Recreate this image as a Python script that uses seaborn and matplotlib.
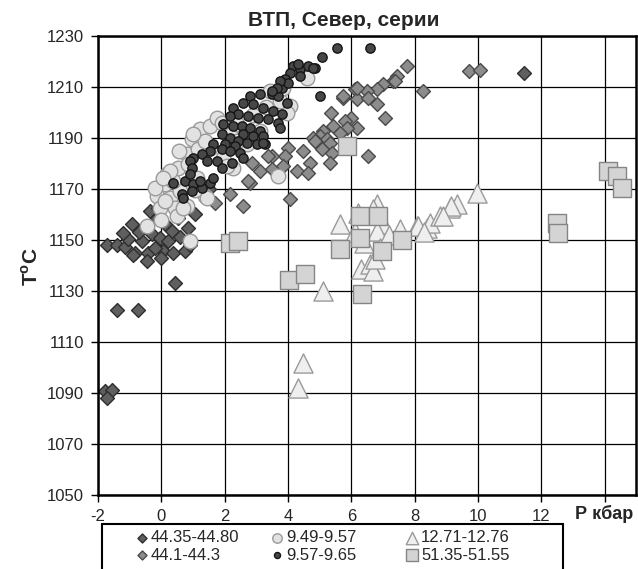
"""
plot.py
-------
ВТП, Север, серии: T (°C) vs P (kbar) scatter, six sample series.
Saves out.png (638x569).
"""

import matplotlib
matplotlib.use("Agg")
import matplotlib.pyplot as plt
from matplotlib.patches import Rectangle
import seaborn as sns
import pandas as pd

# ── data ──────────────────────────────────────────────────────────────────────
series_names = ["44.35-44.80", "44.1-44.3", "9.49-9.57", "9.57-9.65",
                "12.71-12.76", "51.35-51.55"]

dark_dia_p = [-1.78, -1.57, -1.73, -1.41, -0.75, -1.73, -1.41, -1.15, -1.04, -0.94,
              -1.20, -0.83, -0.62, -0.41, -0.46, -0.36, -0.30, -0.15, -0.04, 0.12,
              0.06, 0.22, 0.38, 0.75, 0.85, 0.43, -0.10, 0.27, 0.33, 0.54,
              1.06, 1.50, -0.70, -0.20, 0.60, 0.00, -0.90, 0.90, 11.45]
dark_dia_t = [1090.8, 1091.0, 1088.2, 1122.4, 1122.4, 1148.0, 1148.0, 1147.3, 1150.3, 1156.2,
              1152.9, 1145.0, 1149.6, 1145.0, 1141.8, 1161.4, 1152.2, 1158.8, 1150.9, 1156.2,
              1145.7, 1149.6, 1145.0, 1145.7, 1154.8, 1133.3, 1162.7, 1164.0, 1153.5, 1158.8,
              1160.1, 1170.0, 1153.0, 1147.0, 1151.0, 1143.0, 1144.0, 1148.0, 1215.5]

grey_dia_p = [7.75, 7.43, 7.30, 7.00, 6.80, 8.27, 6.12, 6.48, 6.17, 6.53,
              6.80, 5.75, 7.06, 5.37, 6.00, 5.80, 6.17, 5.43, 5.85, 5.64,
              5.11, 5.00, 4.80, 5.22, 4.90, 5.33, 5.07, 5.38, 6.53, 4.48,
              4.69, 5.33, 4.00, 3.90, 3.85, 4.27, 4.64, 3.48, 4.06, 3.38,
              2.85, 3.12, 2.80, 3.48, 4.85, 5.75, 6.17, 2.17, 2.59, 1.69,
              9.70, 10.06, 7.38, 2.75]
grey_dia_t = [1218.2, 1214.3, 1212.4, 1211.2, 1209.1, 1208.4, 1209.1, 1208.4, 1205.2, 1205.8,
              1203.2, 1205.8, 1198.0, 1199.9, 1198.0, 1196.7, 1194.0, 1194.7, 1194.0, 1192.1,
              1192.7, 1190.8, 1190.1, 1189.5, 1188.2, 1188.2, 1185.6, 1184.3, 1183.0, 1184.9,
              1180.3, 1180.3, 1186.2, 1183.0, 1179.0, 1177.1, 1176.4, 1183.0, 1166.0, 1183.0,
              1180.3, 1177.1, 1172.5, 1177.7, 1188.8, 1206.5, 1209.7, 1168.0, 1163.3, 1164.6,
              1216.3, 1216.7, 1212.4, 1173.1]

light_circ_p = [1.22, 1.54, 0.96, 0.80, 1.17, 0.54, 0.17, 0.12, -0.15, -0.20,
                0.27, 0.43, 0.80, -0.46, 0.90, 1.38, 2.27, 1.96, 1.54, 2.17,
                1.75, 2.38, 1.12, 0.59, 1.06, 0.38, -0.04, 3.69, 4.06, 3.96,
                3.75, 3.85, 4.48, 4.59, 3.12, 2.70, 2.38, 1.38, 0.48, 1.01,
                0.27, 0.06, 0.12, 0.69, 1.43, 2.06, 3.43, 0.00, 0.55, 0.85,
                1.90, 2.90, 3.30]
light_circ_t = [1193.4, 1194.7, 1189.5, 1183.6, 1185.6, 1178.4, 1175.8, 1171.8, 1167.3, 1170.5,
                1166.6, 1162.7, 1163.3, 1155.5, 1149.6, 1167.3, 1178.4, 1182.3, 1186.2, 1192.1,
                1198.0, 1195.4, 1174.5, 1169.2, 1169.8, 1173.1, 1162.7, 1175.1, 1202.5, 1199.9,
                1204.5, 1209.7, 1215.0, 1213.7, 1192.7, 1187.5, 1188.8, 1188.8, 1159.4, 1191.5,
                1177.1, 1174.5, 1165.3, 1162.7, 1166.6, 1179.0, 1208.4, 1158.0, 1185.0, 1180.0,
                1196.0, 1199.0, 1202.0]

dark_circ_p = [2.80, 3.12, 3.48, 3.69, 2.59, 2.90, 3.22, 3.54, 3.80, 2.27,
               2.43, 2.17, 2.75, 3.06, 3.38, 3.69, 1.96, 2.27, 2.54, 2.80,
               3.12, 2.59, 2.90, 3.22, 1.90, 2.17, 2.43, 2.70, 3.01, 3.27,
               1.64, 2.01, 2.33, 1.54, 1.90, 2.17, 2.48, 1.27, 1.01, 1.43,
               1.75, 2.22, 0.90, 0.96, 1.90, 0.38, 0.75, 1.01, 1.27, 1.54,
               0.64, 0.96, 0.69, 4.17, 4.38, 4.64, 4.85, 4.06, 4.38, 3.90,
               3.80, 4.00, 5.06, 5.54, 5.00, 3.96, 2.59, 3.22, 3.75, 6.60,
               4.32, 4.80, 3.75, 3.64, 3.48, 1.22, 1.64, 0.90]
dark_circ_t = [1206.5, 1207.1, 1207.1, 1206.5, 1203.9, 1203.2, 1201.9, 1200.6, 1199.3, 1201.9,
               1199.3, 1198.6, 1198.6, 1198.0, 1197.3, 1196.0, 1195.4, 1194.7, 1194.7, 1194.0,
               1192.7, 1191.5, 1190.8, 1190.8, 1191.5, 1190.1, 1188.8, 1188.2, 1187.5, 1187.5,
               1187.5, 1187.5, 1186.9, 1184.9, 1185.6, 1184.9, 1184.3, 1183.6, 1182.3, 1181.0,
               1181.0, 1180.3, 1181.0, 1178.4, 1178.4, 1172.5, 1173.1, 1171.8, 1170.5, 1172.5,
               1167.9, 1169.2, 1166.6, 1218.2, 1216.9, 1218.2, 1217.6, 1215.6, 1214.3, 1213.0,
               1209.7, 1211.7, 1221.9, 1225.4, 1206.5, 1203.9, 1182.3, 1188.2, 1194.0, 1225.4,
               1219.0, 1217.5, 1212.4, 1209.7, 1208.4, 1173.1, 1174.5, 1175.8]

tri_p = [5.64, 6.80, 6.69, 7.01, 6.80, 7.54, 8.06, 8.38, 8.48, 8.80,
         9.12, 9.33, 9.96, 6.32, 6.59, 6.69, 6.75, 5.09, 4.46, 4.32,
         9.16, 8.90, 8.10, 6.10, 6.40, 6.90, 7.20, 6.20, 8.30]
tri_t = [1156.2, 1164.0, 1162.0, 1156.2, 1153.5, 1154.2, 1155.5, 1154.8, 1156.8, 1159.4,
         1162.7, 1164.0, 1168.6, 1138.5, 1140.5, 1137.8, 1142.4, 1130.0, 1101.9, 1092.1,
         1163.3, 1159.4, 1155.5, 1153.0, 1149.0, 1147.0, 1152.0, 1160.5, 1153.0]

sq_p = [2.17, 2.43, 4.03, 4.54, 5.87, 6.27, 6.85, 6.27, 5.64, 6.96,
        7.59, 6.34, 12.48, 12.53, 14.10, 14.40, 14.53]
sq_t = [1149.0, 1149.6, 1134.2, 1136.5, 1186.9, 1159.4, 1159.4, 1150.9, 1146.4, 1145.7,
        1149.9, 1128.7, 1156.8, 1152.9, 1177.0, 1175.0, 1170.5]

x_ticks = [-2, 0, 2, 4, 6, 8, 10, 12, 14]
x_tick_labels = ["-2", "0", "2", "4", "6", "8", "10", "12", ""]
y_ticks = [1050, 1070, 1090, 1110, 1130, 1150, 1170, 1190, 1210, 1230]

# ── style ─────────────────────────────────────────────────────────────────────
sns.set_theme(style="white")
plt.rcParams["font.family"] = ["Liberation Sans", "DejaVu Sans"]
plt.rcParams["mathtext.fontset"] = "custom"
plt.rcParams["mathtext.rm"] = "Liberation Sans"
plt.rcParams["mathtext.bf"] = "Liberation Sans:bold"

# marker, area, fill, edge  (plot order = Excel series order)
STYLES = [
    ("D", 50,  "#5f5f5f", "#2e2e2e"),
    ("D", 50,  "#8c8c8c", "#4a4a4a"),
    ("o", 110, "#e2e2e2", "#9a9a9a"),
    ("o", 45,  "#474747", "#151515"),
    ("^", 190, "#efefef", "#9a9a9a"),
    ("s", 150, "#d4d4d4", "#858585"),
]

frames = []
for name, p, t in zip(series_names,
                      [dark_dia_p, grey_dia_p, light_circ_p, dark_circ_p, tri_p, sq_p],
                      [dark_dia_t, grey_dia_t, light_circ_t, dark_circ_t, tri_t, sq_t]):
    frames.append(pd.DataFrame({"P": p, "T": t, "series": name}))
df = pd.concat(frames, ignore_index=True)

fig = plt.figure(figsize=(6.38, 5.69), dpi=100)
ax = fig.add_axes([98 / 638, 74 / 569, 538.4 / 638, 459 / 569])

for (name, (mk, size, fc, ec)) in zip(series_names, STYLES):
    sub = df[df["series"] == name]
    sns.scatterplot(data=sub, x="P", y="T", marker=mk, s=size,
                    color=fc, edgecolor=ec, linewidth=1.0,
                    label=name, ax=ax)

ax.set_xlim(-2, 15)
ax.set_ylim(1050, 1230)
ax.set_xticks(x_ticks)
ax.set_xticklabels(x_tick_labels)
ax.set_yticks(y_ticks)
ax.set_xlabel("")
ax.set_ylabel("")
ax.set_axisbelow(True)
ax.grid(True, color="black", linewidth=0.9)
ax.tick_params(axis="both", direction="out", length=5, width=1, color="black",
               labelsize=12, bottom=True, left=True)
ax.tick_params(axis="x", pad=5)
ax.tick_params(axis="y", pad=5)
for sp in ax.spines.values():
    sp.set_color("black")
    sp.set_linewidth(1.8)

# titles / axis labels
fig.text(344 / 638, 1 - 21 / 569, "ВТП, Север, серии", ha="center", va="center",
         fontsize=15, fontweight="bold")
fig.text(31 / 638, 1 - 267 / 569, r"T$^{\mathbf{o}}$C", rotation=90,
         ha="center", va="center", fontsize=15, fontweight="bold")
fig.text(604 / 638, 1 - 514 / 569, "Р кбар", ha="center", va="center",
         fontsize=13, fontweight="bold")

# legend under the plot: three columns of two, Excel-like box cut by the edge
handles, labels = ax.get_legend_handles_labels()
ax.get_legend().remove()
for col, x0 in enumerate([136, 271, 406]):
    leg = fig.legend(handles[2 * col:2 * col + 2], labels[2 * col:2 * col + 2],
                     loc="upper left", bbox_to_anchor=(x0 / 638, 1 - 530 / 569),
                     frameon=False, fontsize=12, handlelength=0.7,
                     handletextpad=0.2, labelspacing=0.15, borderpad=0,
                     borderaxespad=0, markerscale=0.65)
fig.add_artist(Rectangle((102 / 638, -10 / 569), 461 / 638, 55 / 569,
                         transform=fig.transFigure, fill=False,
                         edgecolor="black", linewidth=1.5, clip_on=False))

fig.savefig("out.png", dpi=100)
